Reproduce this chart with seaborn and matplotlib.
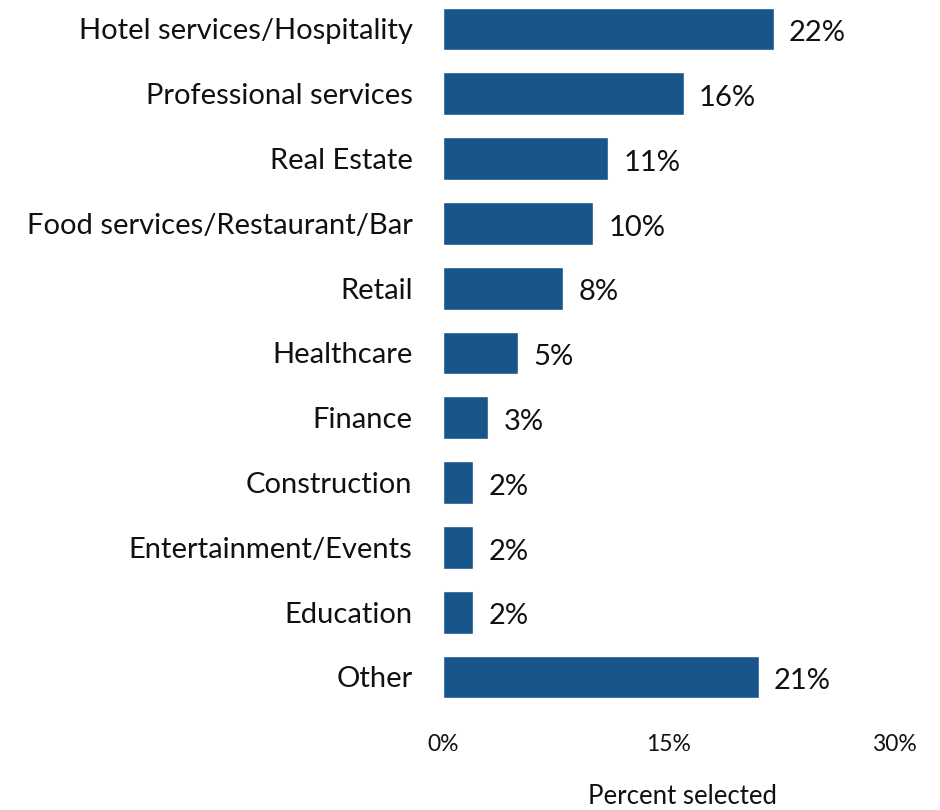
import matplotlib
matplotlib.use("Agg")
import matplotlib.pyplot as plt
import seaborn as sns
import pandas as pd

categories = [
    "Hotel services/Hospitality",
    "Professional services",
    "Real Estate",
    "Food services/Restaurant/Bar",
    "Retail",
    "Healthcare",
    "Finance",
    "Construction",
    "Entertainment/Events",
    "Education",
    "Other",
]
percent = [22, 16, 11, 10, 8, 5, 3, 2, 2, 2, 21]
tick_values = [0, 15, 30]
tick_labels = ["0%", "15%", "30%"]

df = pd.DataFrame({"category": categories, "percent": percent})

sns.set_theme(style="white")
plt.rcParams["font.family"] = ["Lato", "DejaVu Sans"]

fig = plt.figure(figsize=(9.4, 8.1), dpi=100)
ax = fig.add_axes([443 / 940, 1 - 710 / 810, (894 - 443) / 940, 710 / 810])

sns.barplot(data=df, x="percent", y="category", orient="h",
            color="#17558a", saturation=1, width=0.66, ax=ax)

for i, v in enumerate(percent):
    ax.annotate(f"{v}%", xy=(v, i), xytext=(11, -3), textcoords="offset points",
                ha="left", va="center", fontsize=21, color="#111111")

ax.set_xlim(0, 30)
ax.set_ylim(10.51, -0.447)
ax.set_xticks(tick_values)
ax.set_xticklabels(tick_labels, fontsize=16.5, color="#111111")
ax.tick_params(axis="x", length=0, pad=17)
ax.tick_params(axis="y", length=0, pad=22, labelsize=21, labelcolor="#111111")
ax.set_ylabel("")
ax.set_xlabel("Percent selected", fontsize=18.5, color="#111111", va="center")
ax.xaxis.set_label_coords(0.53, -87 / 710)
for s in ax.spines.values():
    s.set_visible(False)

fig.savefig("out.png", dpi=100)
